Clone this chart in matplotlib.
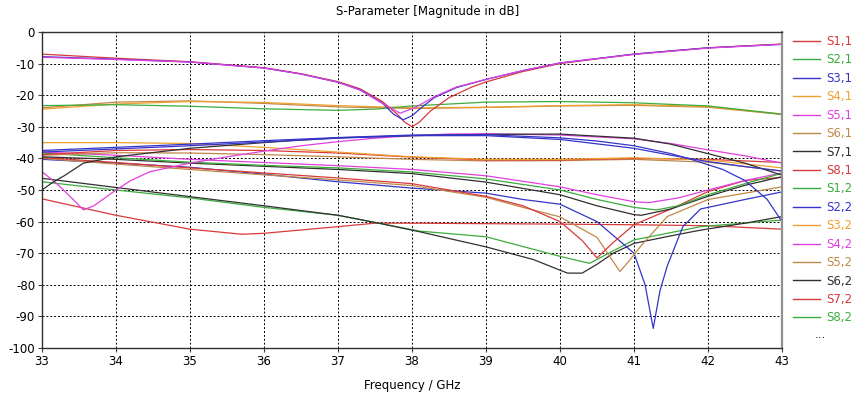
import matplotlib
matplotlib.use("Agg")
import matplotlib.pyplot as plt
from matplotlib.lines import Line2D

plt.rcParams['font.family'] = ['DejaVu Sans']

# ---- colours (CST-like cycle) ----
RED = '#d83a3a'
GRN = '#3cac3c'
BLU = '#3434c8'
ORG = '#f0a030'
MAG = '#e040e0'
TAN = '#c08848'
BLK = '#303030'

# ---- legend ----
legend_labels = ['S1,1', 'S2,1', 'S3,1', 'S4,1', 'S5,1', 'S6,1', 'S7,1', 'S8,1',
                 'S1,2', 'S2,2', 'S3,2', 'S4,2', 'S5,2', 'S6,2', 'S7,2', 'S8,2']
legend_colors = [RED, GRN, BLU, ORG, MAG, TAN, BLK, RED,
                 GRN, BLU, ORG, MAG, TAN, BLK, RED, GRN]

# ---- curves: (colour, frequency GHz, magnitude dB) ----
# reflection group with resonance near 38 GHz
refl_red_f = [33, 34, 35, 36, 36.5, 37, 37.3, 37.6, 37.8, 37.9, 38.0, 38.1, 38.25, 38.5, 38.8, 39, 39.5, 40, 41, 42, 43]
refl_red_db = [-7.0, -8.3, -9.4, -11.3, -13.2, -15.7, -18.0, -22.0, -26.0, -28.5, -30.0, -28.5, -25.0, -20.8, -17.5, -15.8, -12.5, -10.0, -7.0, -5.0, -3.8]
refl_blu_f = [33, 34, 35, 36, 36.5, 37, 37.3, 37.6, 37.75, 37.88, 38.0, 38.15, 38.3, 38.6, 39, 39.5, 40, 41, 42, 43]
refl_blu_db = [-7.8, -8.6, -9.5, -11.4, -13.3, -15.9, -18.3, -22.5, -26.0, -27.8, -26.5, -23.5, -20.8, -17.6, -15.0, -12.2, -9.8, -7.0, -5.0, -3.9]
refl_mag_f = [33, 34, 35, 36, 36.5, 37, 37.3, 37.6, 37.84, 38.05, 38.3, 38.6, 39, 39.5, 40, 41, 42, 43]
refl_mag_db = [-8.0, -8.7, -9.5, -11.4, -13.3, -15.9, -18.4, -22.6, -25.7, -23.8, -20.5, -17.4, -15.0, -12.2, -9.8, -7.1, -5.1, -3.9]

# neighbour coupling around -23 dB
cpl_grn_f = [33, 34, 35, 36, 37, 37.5, 38, 39, 40, 41, 42, 43]
cpl_grn_db = [-23.3, -23.0, -23.5, -24.3, -24.8, -24.4, -23.4, -22.2, -22.0, -22.4, -23.4, -26.0]
cpl_org_f = [33, 34, 35, 36, 37, 38, 39, 40, 41, 42, 43]
cpl_org_db = [-24.4, -22.8, -22.0, -22.3, -23.3, -24.0, -23.8, -23.3, -23.0, -23.6, -26.0]
cpl_tan_f = [33, 34, 35, 36, 37, 38, 39, 40, 41, 42, 43]
cpl_tan_db = [-24.0, -22.2, -21.8, -22.6, -23.7, -24.2, -23.9, -23.4, -23.2, -23.8, -26.1]

# -32 .. -38 dB group
blu_a_f = [33, 34, 35, 36, 37, 38, 39, 40, 40.5, 41, 41.5, 41.8, 42.2, 42.5, 42.8, 43]
blu_a_db = [-37.5, -36.5, -35.5, -34.4, -33.4, -32.6, -32.5, -33.5, -34.5, -36.0, -38.5, -40.5, -43.5, -47.0, -53.0, -60.0]
blu_b_f = [33, 34, 35, 36, 37, 38, 39, 40, 41, 41.5, 42, 42.5, 43]
blu_b_db = [-38.0, -37.0, -36.0, -34.8, -33.6, -32.8, -32.8, -34.0, -36.8, -39.0, -41.0, -42.6, -44.0]
blk_a_f = [33, 33.15, 33.3, 33.56, 34, 35, 36, 36.5, 37, 38, 39, 40, 41, 41.5, 42, 42.5, 43]
blk_a_db = [-50.0, -47.5, -45.5, -41.5, -39.5, -36.8, -35.0, -34.2, -33.5, -32.8, -32.4, -32.3, -33.6, -35.5, -38.5, -41.5, -45.3]
mag_a_f = [33, 33.2, 33.4, 33.56, 33.7, 33.85, 34, 34.2, 34.46, 35, 35.5, 36, 36.5, 37, 37.5, 38, 38.5, 39, 40, 41, 41.5, 42, 42.5, 43]
mag_a_db = [-44.2, -48.0, -52.5, -56.3, -55.0, -52.5, -50.0, -47.0, -44.2, -41.5, -39.5, -37.7, -36.0, -34.7, -33.6, -32.8, -32.3, -32.2, -32.6, -33.8, -35.3, -37.3, -39.2, -41.5]

# -35 .. -41 dB band
org_b_f = [33, 34, 35, 36, 37, 38, 39, 40, 41, 42, 43]
org_b_db = [-35.0, -35.0, -35.3, -36.5, -38.0, -39.5, -40.3, -40.3, -39.8, -40.5, -43.0]
red_a_f = [33, 34, 35, 36, 37, 38, 39, 40, 41, 42, 43]
red_a_db = [-38.8, -37.5, -37.2, -37.5, -38.3, -39.6, -40.5, -40.5, -40.0, -40.3, -41.3]
tan_a_f = [33, 34, 35, 36, 37, 38, 39, 40, 41, 42, 43]
tan_a_db = [-39.0, -38.2, -38.3, -38.8, -39.5, -40.3, -40.8, -40.7, -40.3, -41.2, -44.0]

# curves falling from about -40 dB with dips near 41 GHz
grn_a_f = [33, 34, 35, 36, 37, 38, 39, 40, 40.5, 41, 41.3, 41.6, 42, 42.5, 43]
grn_a_db = [-38.3, -39.8, -41.2, -42.2, -43.0, -44.3, -46.5, -50.0, -53.0, -55.5, -56.3, -55.0, -51.5, -48.0, -44.7]
blk_b_f = [33, 34, 35, 36, 37, 38, 39, 40, 40.5, 41, 41.1, 41.5, 42, 42.5, 43]
blk_b_db = [-39.5, -40.3, -41.5, -42.5, -43.5, -44.8, -47.5, -51.5, -55.0, -57.8, -58.0, -56.0, -52.0, -48.5, -45.8]
mag_b_f = [33, 34, 35, 36, 37, 38, 39, 40, 40.5, 41, 41.2, 41.6, 42, 42.5, 43]
mag_b_db = [-38.0, -39.0, -40.3, -41.3, -42.3, -43.5, -45.5, -49.0, -51.5, -53.7, -54.0, -52.5, -50.0, -47.0, -44.6]
red_b_f = [33, 34, 35, 36, 37, 38, 39, 39.5, 40, 40.3, 40.5, 40.7, 41, 41.5, 42, 42.5, 43]
red_b_db = [-39.7, -41.3, -43.0, -44.6, -46.2, -48.0, -52.0, -55.0, -60.0, -66.0, -71.5, -67.0, -61.0, -56.0, -50.5, -47.0, -46.0]
tan_b_f = [33, 34, 35, 36, 37, 38, 39, 39.5, 40, 40.5, 40.7, 40.81, 40.95, 41.1, 41.45, 42, 42.5, 43]
tan_b_db = [-40.0, -41.8, -43.5, -45.2, -46.8, -48.6, -52.3, -55.5, -58.5, -65.0, -72.0, -75.8, -72.0, -67.5, -58.4, -53.0, -51.0, -49.0]
blu_c_f = [33, 34, 35, 36, 37, 38, 39, 39.5, 40, 40.5, 41, 41.15, 41.26, 41.35, 41.45, 41.66, 41.9, 42.5, 43]
blu_c_db = [-40.3, -41.5, -42.8, -45.0, -47.4, -49.4, -51.0, -53.0, -54.5, -60.0, -70.0, -80.0, -93.8, -82.0, -74.0, -61.6, -56.0, -53.0, -50.6]

# lowest curves
blk_c_f = [33, 34, 35, 36, 37, 37.55, 38.1, 39, 39.64, 40.1, 40.3, 40.5, 40.72, 41, 41.5, 41.9, 42.5, 43]
blk_c_db = [-46.3, -49.2, -52.1, -55.0, -58.0, -60.5, -63.2, -68.0, -72.0, -76.3, -76.3, -73.5, -70.0, -66.9, -64.5, -62.7, -60.5, -58.4]
grn_c_f = [33, 34, 35, 36, 37, 37.55, 38.1, 39, 40, 40.4, 41, 41.9, 43]
grn_c_db = [-47.4, -50.0, -52.5, -55.5, -58.0, -60.5, -63.0, -64.8, -71.0, -73.2, -65.8, -61.6, -59.5]
red_c_f = [33, 34, 35, 35.7, 36, 37, 37.5, 38, 40, 41, 42, 43]
red_c_db = [-52.8, -58.0, -62.4, -64.0, -63.7, -61.6, -60.5, -60.5, -60.8, -61.0, -61.3, -62.4]

curves = [
    (RED, red_c_f, red_c_db), (GRN, grn_c_f, grn_c_db), (BLK, blk_c_f, blk_c_db),
    (BLU, blu_c_f, blu_c_db), (TAN, tan_b_f, tan_b_db), (RED, red_b_f, red_b_db),
    (MAG, mag_b_f, mag_b_db), (BLK, blk_b_f, blk_b_db), (GRN, grn_a_f, grn_a_db),
    (TAN, tan_a_f, tan_a_db), (RED, red_a_f, red_a_db), (ORG, org_b_f, org_b_db),
    (MAG, mag_a_f, mag_a_db), (BLK, blk_a_f, blk_a_db), (BLU, blu_b_f, blu_b_db),
    (BLU, blu_a_f, blu_a_db),
    (TAN, cpl_tan_f, cpl_tan_db), (ORG, cpl_org_f, cpl_org_db), (GRN, cpl_grn_f, cpl_grn_db),
    (RED, refl_red_f, refl_red_db), (BLU, refl_blu_f, refl_blu_db), (MAG, refl_mag_f, refl_mag_db),
]

x_ticks = [33, 34, 35, 36, 37, 38, 39, 40, 41, 42, 43]
y_ticks = [0, -10, -20, -30, -40, -50, -60, -70, -80, -90, -100]

fig = plt.figure(figsize=(8.55, 3.94), dpi=100)
ax = fig.add_axes([42 / 855, 1 - 348 / 394, 740 / 855, 316 / 394])

for c, f, db in curves:
    ax.plot(f, db, color=c, lw=0.9)

ax.set_xlim(33, 43)
ax.set_ylim(-100, 0)
ax.set_xticks(x_ticks)
ax.set_yticks(y_ticks)
ax.set_yticklabels([str(v) for v in y_ticks])
ax.tick_params(axis='both', labelsize=8.5, length=3, width=0.8, color='#404040', pad=2)
ax.grid(True, color='black', linestyle=(0, (2, 2)), linewidth=0.7)
for s in ['left', 'bottom', 'top']:
    ax.spines[s].set_color('#303030')
    ax.spines[s].set_linewidth(1.0)
ax.spines['right'].set_color('#909090')
ax.spines['right'].set_linewidth(1.6)

ax.set_xlabel('Frequency / GHz', fontsize=8.5, labelpad=8)
fig.text(0.5, 1 - 12 / 394, 'S-Parameter [Magnitude in dB]', ha='center', va='center', fontsize=8.5)

handles = [Line2D([0], [0], color=c, lw=1.0) for c in legend_colors]
leg = fig.legend(handles, legend_labels, loc='upper left', bbox_to_anchor=(793 / 855, 1 - 35 / 394),
                 frameon=False, fontsize=8.5, handlelength=2.3, handletextpad=0.55,
                 labelspacing=0.46, borderpad=0, borderaxespad=0, labelcolor='linecolor')
fig.text(815 / 855, 1 - 334 / 394, '...', ha='left', va='center', fontsize=8.5, color='#303030')

fig.savefig('out.png', dpi=100)
